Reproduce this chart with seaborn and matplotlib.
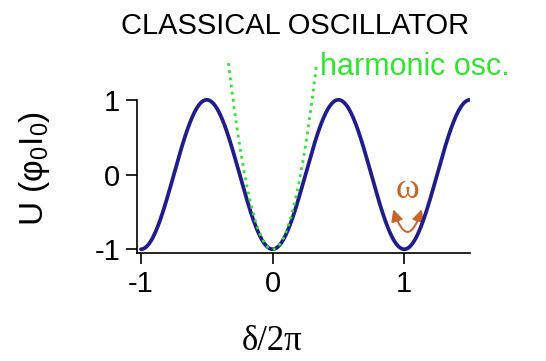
import matplotlib
matplotlib.use("Agg")
import matplotlib.pyplot as plt
from matplotlib.patches import FancyArrowPatch
import numpy as np
import pandas as pd
import seaborn as sns

# Potencial del oscilador clásico: U = -cos(2*pi*delta)
DELTA_START, DELTA_END = -1.0, 1.5
HARM_START, HARM_END = -0.335, 0.335    # tramo dibujado de la parábola
HARM_CURVATURE = 22.2                   # U = -1 + k * delta^2

X_TICKS = [-1, 0, 1]
Y_TICKS = [-1, 0, 1]

TITLE = "CLASSICAL OSCILLATOR"
HARM_LABEL = "harmonic osc."
OMEGA_LABEL = "ω"

NAVY = "#201c8c"
GREEN = "#2fe62f"
ORANGE = "#c8642a"

sns.set_style("ticks")
plt.rcParams["font.family"] = ["Liberation Sans", "DejaVu Sans"]
plt.rcParams["text.color"] = "black"
plt.rcParams["xtick.color"] = "black"
plt.rcParams["ytick.color"] = "black"
plt.rcParams["mathtext.fontset"] = "custom"
plt.rcParams["mathtext.rm"] = "Liberation Sans"

delta = np.linspace(DELTA_START, DELTA_END, 400)
df_pot = pd.DataFrame({"delta": delta, "U": -np.cos(2 * np.pi * delta)})
d_h = np.linspace(HARM_START, HARM_END, 200)
df_harm = pd.DataFrame({"delta": d_h, "U": -1 + HARM_CURVATURE * d_h ** 2})

fig = plt.figure(figsize=(5.46, 3.61), dpi=100)
ax = fig.add_axes([0.2509, 0.2992, 0.610, 0.5485])

sns.lineplot(data=df_pot, x="delta", y="U", ax=ax, color=NAVY, lw=2.7)
sns.lineplot(data=df_harm, x="delta", y="U", ax=ax, color=GREEN, lw=2.0,
             linestyle=(0, (1, 1.6)))

ax.set_xlim(-1.03, 1.5)
ax.set_ylim(-1.05, 1.6)
ax.set_xticks(X_TICKS)
ax.set_yticks(Y_TICKS)
ax.set_xticklabels([str(t) for t in X_TICKS])
ax.set_yticklabels([str(t) for t in Y_TICKS])
ax.tick_params(labelsize=21, length=8, width=1.2, color="black",
               labelcolor="black", pad=4)
for side in ["top", "right"]:
    ax.spines[side].set_visible(False)
ax.spines["left"].set_bounds(-1.05, 1)
ax.spines["bottom"].set_bounds(-1.03, 1.5)
for side in ["left", "bottom"]:
    ax.spines[side].set_linewidth(1.2)
    ax.spines[side].set_color("black")

ax.set_xlabel("")
ax.set_ylabel("")
fig.text(272 / 546, 1 - 342 / 361, "δ/2π", ha="center", va="center",
         fontsize=25, family="Liberation Serif")
fig.text(35 / 546, 1 - 168 / 361, r"U (φ$_0$I$_0$)", rotation=90,
         ha="center", va="center", fontsize=24)

fig.text(295 / 546, 1 - 26 / 361, TITLE, ha="center", va="center", fontsize=21)
fig.text(320 / 546, 1 - 67 / 361, HARM_LABEL, ha="left", va="center",
         fontsize=22, color=GREEN)

ax.text(1.025, -0.2, OMEGA_LABEL, ha="center", va="center", fontsize=26,
        family="Liberation Serif", color=ORANGE)
arrow = FancyArrowPatch((0.91, -0.43), (1.14, -0.43),
                        connectionstyle="arc3,rad=1.6",
                        arrowstyle="<|-|>,head_length=7,head_width=3.5",
                        color=ORANGE, lw=1.4)
ax.add_patch(arrow)

fig.savefig("out.png", dpi=100)
